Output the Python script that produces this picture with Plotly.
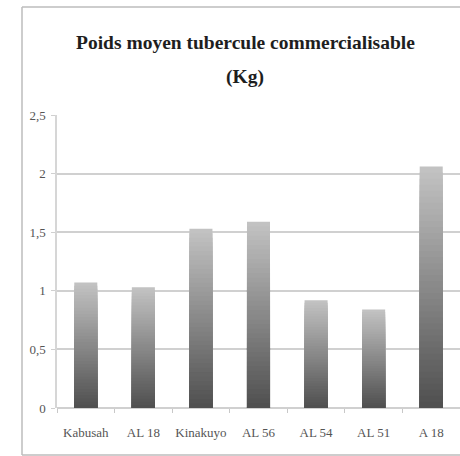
import plotly.graph_objects as go

categories = ["Kabusah", "AL 18", "Kinakuyo", "AL 56", "AL 54", "AL 51", "A 18"]
values = [1.07, 1.03, 1.53, 1.59, 0.92, 0.84, 2.06]
y_ticks = [0, 0.5, 1, 1.5, 2, 2.5]

N = 40
dark = (80, 80, 80)
light = (194, 194, 194)

fig = go.Figure()
for i in range(N):
    frac = (N - i) / N
    t = (N - 1 - i) / (N - 1)  # 1 for tallest (lightest)
    c = tuple(int(round(dark[k] + (light[k] - dark[k]) * t)) for k in range(3))
    fig.add_trace(go.Bar(
        x=categories, y=[v * frac for v in values],
        marker=dict(color="rgb(%d,%d,%d)" % c, line=dict(width=0)),
        width=0.4, showlegend=False, hoverinfo="skip",
    ))

W, H = 460, 456
L, R, T, B = 57, 0, 115, 48
pw, ph = W - L - R, H - T - B

def px_x(p):
    return (p - L) / pw

def px_y(p):
    return (H - B - p) / ph

# frame: left, top and bottom edges (right edge lies outside the picture)
for (x0, y0, x1, y1) in [(22, 7, 22, 455), (22, 7, 600, 7), (22, 455, 600, 455)]:
    fig.add_shape(type="line", xref="paper", yref="paper",
                  x0=px_x(x0), y0=px_y(y0), x1=px_x(x1), y1=px_y(y1),
                  line=dict(color="#bdbdbd", width=1.5), layer="below")

fig.add_annotation(text="<b>Poids moyen tubercule commercialisable</b>", xref="paper", yref="paper",
                   x=px_x(245), y=px_y(43), showarrow=False, xanchor="center", yanchor="middle",
                   font=dict(family="Liberation Serif", size=19.5, color="#1e1e1e"))
fig.add_annotation(text="<b>(Kg)</b>", xref="paper", yref="paper",
                   x=px_x(245), y=px_y(77), showarrow=False, xanchor="center", yanchor="middle",
                   font=dict(family="Liberation Serif", size=19.5, color="#1e1e1e"))

fig.update_layout(
    width=W, height=H, margin=dict(l=L, r=R, t=T, b=B),
    paper_bgcolor="white", plot_bgcolor="white",
    barmode="overlay", separators=", ",
    font=dict(family="Liberation Serif", size=13, color="#555555"),
)
fig.update_xaxes(type="category", showgrid=False, showline=False, tickangle=0,
                 ticks="outside", tickson="boundaries", ticklen=4, tickcolor="#c8c8c8",
                 tickfont=dict(size=13, color="#555555"), zeroline=False, ticklabelstandoff=15)
fig.update_yaxes(range=[0, 2.5], tickvals=y_ticks, ticktext=[str(v).replace(".", ",") if v != int(v) else str(int(v)) for v in y_ticks],
                 showgrid=True, gridcolor="#d0d0d0", gridwidth=1.5,
                 showline=True, linecolor="#d6d6d6", linewidth=1.5,
                 ticks="outside", ticklen=4, tickcolor="#d0d0d0",
                 zeroline=True, zerolinecolor="#d0d0d0", zerolinewidth=1.5,
                 tickfont=dict(size=13, color="#555555"), ticklabelstandoff=3)

fig.write_html("out.html", config={"displayModeBar": False},
               post_script="document.body.style.margin='0';document.body.style.overflow='hidden';")
